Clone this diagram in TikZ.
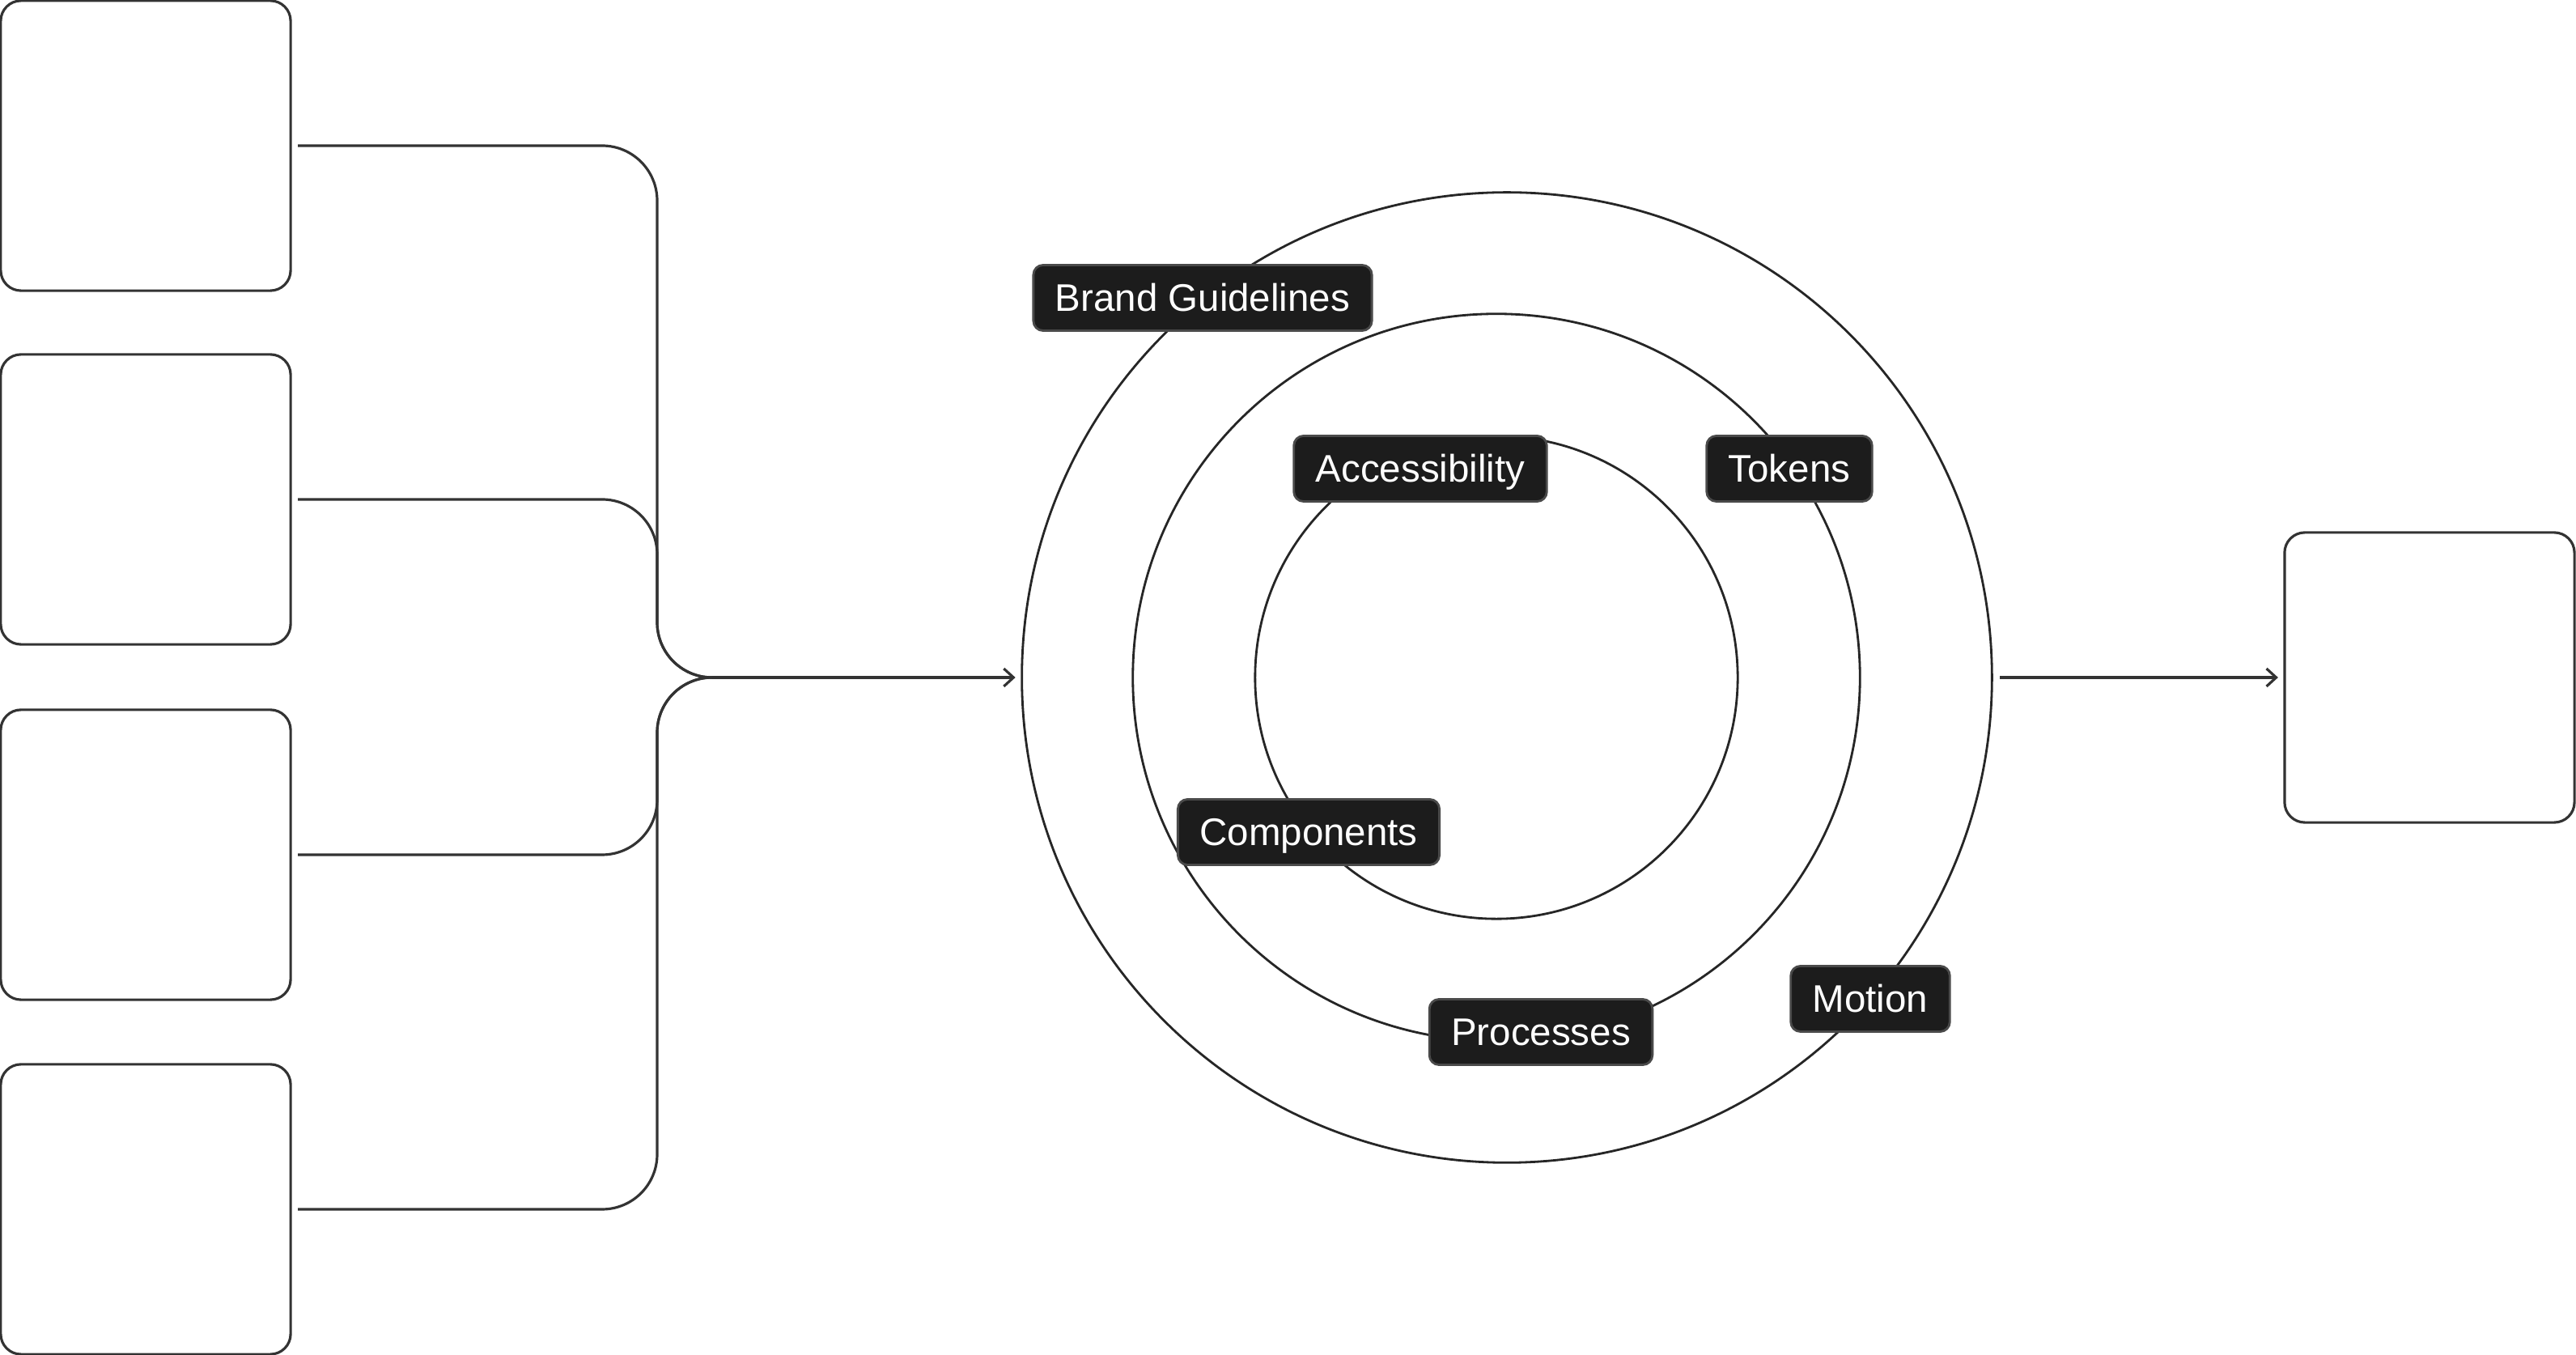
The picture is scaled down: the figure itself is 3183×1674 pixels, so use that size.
\documentclass[tikz,border=0pt]{standalone}
\usepackage{fontspec}
\setmainfont{Liberation Sans}
\usetikzlibrary{arrows.meta,positioning}
\definecolor{ink}{HTML}{333333}
\definecolor{tagfill}{HTML}{1C1C1C}
\definecolor{tagline}{HTML}{4A4A4A}
\tikzset{
  slot/.style={draw=ink, line width=0.9pt, rounded corners=0.25cm, minimum width=3.58cm, minimum height=3.58cm, inner sep=0pt, outer sep=0pt},
  ring/.style={circle, draw=black!85, line width=0.8pt, inner sep=0pt, outer sep=0pt},
  tag/.style={draw=tagline, line width=0.8pt, fill=tagfill, text=white, rounded corners=0.12cm, font=\fontsize{13.5}{16}\selectfont, inner xsep=0.27cm, text height=9.7pt, text depth=0.5pt, minimum height=0.81cm},
  conn/.style={draw=ink, line width=0.9pt, rounded corners=0.68cm},
  arrow/.style={-{Straight Barb[length=1.2mm, width=2.2mm]}, draw=ink, line width=0.9pt}
}
\begin{document}
\begin{tikzpicture}[x=0.01cm, y=-0.01cm]
\useasboundingbox (0,0) rectangle (3183,1674);

% inputs on the left
\node[slot] (in1) at (180,180) {};
\node[slot] (in2) at (180,617) {};
\node[slot] (in3) at (180,1056) {};
\node[slot] (in4) at (180,1494) {};
\coordinate (spine) at (812,837);
\coordinate (merge) at (880,837);

% rings
\node[ring, minimum size=11.98cm] (outer) at (1862,837) {};
\node[ring, minimum size=8.98cm] (middle) at (1849,837) {};
\node[ring, minimum size=5.96cm] (inner) at (1849,837) {};

% output on the right
\node[slot] (out) at (3002,837) {};

% connectors
\foreach \i in {1,...,4}
  \draw[conn] ([xshift=0.09cm]in\i.east) -| (spine) -- (merge);
\draw[arrow] (merge) -- ([xshift=-0.08cm]outer.west);
\draw[arrow] ([xshift=0.1cm]outer.east) -- ([xshift=-0.08cm]out.west);

% labels on the rings
\node[tag] (brand) at (1486,368) {Brand Guidelines};
\node[tag] (access) at (1755,579) {Accessibility};
\node[tag] (tokens) at (2211,579) {Tokens};
\node[tag] (comps) at (1617,1028) {Components};
\node[tag] (procs) at (1904,1275) {Processes};
\node[tag] (motion) at (2311,1234) {Motion};
\end{tikzpicture}
\end{document}
